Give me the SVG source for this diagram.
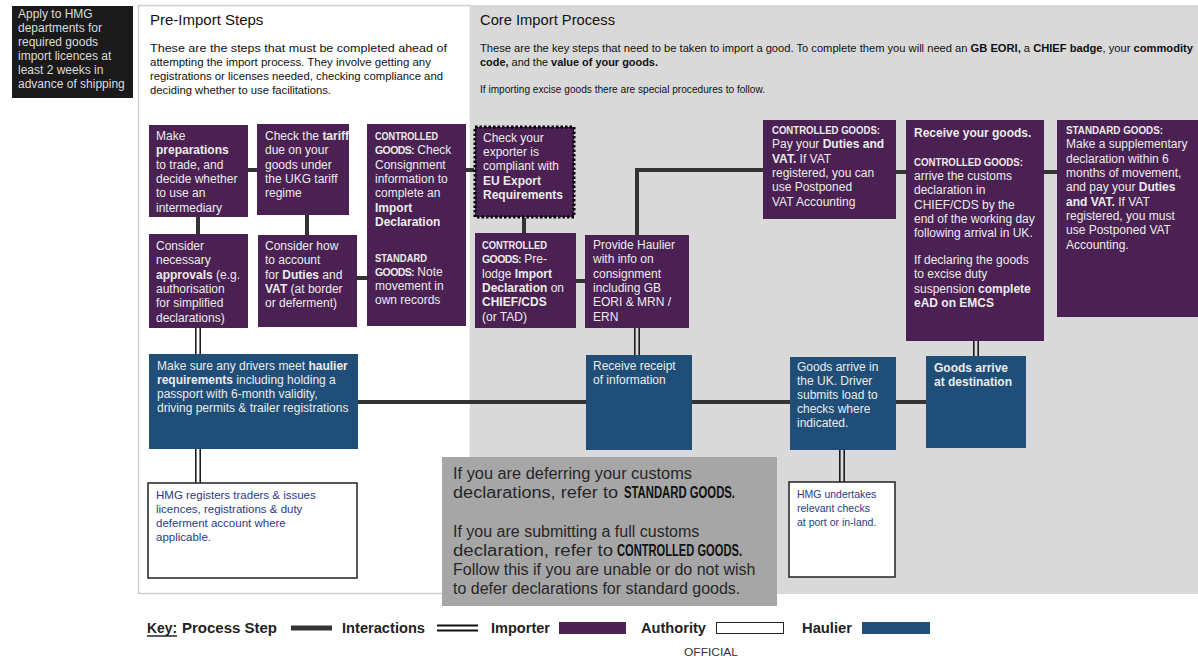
<svg xmlns="http://www.w3.org/2000/svg" width="1198" height="662" viewBox="0 0 1198 662">
<style>
text{font-family:"Liberation Sans",Arial,sans-serif}
.t{font-size:12px;fill:#ececec}
.b{font-weight:bold}
.cb{font-size:11.5px;font-weight:bold;fill:#ececec}
.cs{font-size:10.5px;font-weight:bold;letter-spacing:-0.6px}
.imp{fill:#4a2152}
.hau{fill:#1f4e78}
.auth{fill:#fff;stroke:#222;stroke-width:1.5}
.proc{fill:none;stroke:#333;stroke-width:4}
.dbl{fill:none;stroke:#111;stroke-width:1.5}
.hd{font-size:15px;fill:#111}
.desc{font-size:11px;fill:#111}
.at{font-size:11.5px;fill:#2a3a88}
.nt{font-size:16px;fill:#262626}
.lg{font-size:14px;font-weight:bold;fill:#222}
</style>
<rect x="0" y="0" width="1198" height="662" fill="#fff"/>
<g id="panels">
<rect x="138.5" y="5.5" width="332" height="588" fill="#fff" stroke="#d0d0d0" stroke-width="1.5"/>
<rect x="470" y="5" width="728" height="589" fill="#d9d9d9"/>
</g>
<g id="licence-note">
<rect x="12" y="6" width="121" height="92" fill="#1a1a1a"/>
<text class="t" style="fill:#dcdcdc"><tspan x="18" y="18">Apply to HMG</tspan><tspan x="18" y="32">departments for</tspan><tspan x="18" y="46">required goods</tspan><tspan x="18" y="60">import licences at</tspan><tspan x="18" y="74">least 2 weeks in</tspan><tspan x="18" y="88">advance of shipping</tspan></text>
</g>
<g id="headers">
<text class="hd" x="150" y="25">Pre-Import Steps</text>
<text class="desc" x="150" y="52" textLength="297" lengthAdjust="spacingAndGlyphs">These are the steps that must be completed ahead of</text>
<text class="desc" x="150" y="66" textLength="281" lengthAdjust="spacingAndGlyphs">attempting the import process. They involve getting any</text>
<text class="desc" x="150" y="80" textLength="293" lengthAdjust="spacingAndGlyphs">registrations or licenses needed, checking compliance and</text>
<text class="desc" x="150" y="94" textLength="181" lengthAdjust="spacingAndGlyphs">deciding whether to use facilitations.</text>
<text class="hd" x="480" y="25" textLength="135" lengthAdjust="spacingAndGlyphs">Core Import Process</text>
<text class="desc" x="480" y="52" textLength="713" lengthAdjust="spacingAndGlyphs">These are the key steps that need to be taken to import a good. To complete them you will need an <tspan class="b">GB EORI,</tspan> a <tspan class="b">CHIEF badge</tspan>, your <tspan class="b">commodity</tspan></text>
<text class="desc" x="480" y="66" textLength="178" lengthAdjust="spacingAndGlyphs"><tspan class="b">code,</tspan> and the <tspan class="b">value of your goods.</tspan></text>
<text class="desc" x="480" y="93" textLength="285" lengthAdjust="spacingAndGlyphs">If importing excise goods there are special procedures to follow.</text>
</g>
<g id="connectors">
<path class="proc" d="M248 170H257M198 217V234M307 215V235M357 278H367M466 170H474M524 218V233M576 281H585M637 235V170H763M896 172H906M1044 172H1057M358 402H586M692 402H790M896 402H926"/>
<path class="dbl" d="M195.8 328V354M200.2 328V354M195.8 449V483M200.2 449V483M634.8 328V355M639.2 328V355M973.8 341V356M978.2 341V356M839.8 450V482M844.2 450V482"/>
</g>
<g id="n-preparations">
<rect class="imp" x="149" y="125" width="99" height="92"/>
<text class="t"><tspan x="156" y="140">Make</tspan><tspan x="156" y="154" class="b">preparations</tspan><tspan x="156" y="169">to trade, and</tspan><tspan x="156" y="183">decide whether</tspan><tspan x="156" y="197">to use an</tspan><tspan x="156" y="212">intermediary</tspan></text>
</g>
<g id="n-tariff">
<rect class="imp" x="257" y="124" width="92" height="91"/>
<text class="t"><tspan x="265" y="140">Check the <tspan class="b">tariff</tspan></tspan><tspan x="265" y="154">due on your</tspan><tspan x="265" y="169">goods under</tspan><tspan x="265" y="183">the UKG tariff</tspan><tspan x="265" y="197">regime</tspan></text>
</g>
<g id="n-consignment">
<rect class="imp" x="367" y="124" width="99" height="202"/>
<text class="cb" x="375" y="140" textLength="63" lengthAdjust="spacingAndGlyphs">CONTROLLED</text>
<text class="t" x="375" y="154"><tspan class="cs">GOODS:</tspan> Check</text>
<text class="t"><tspan x="375" y="169">Consignment</tspan><tspan x="375" y="183">information to</tspan><tspan x="375" y="197">complete an</tspan><tspan x="375" y="212" class="b">Import</tspan><tspan x="375" y="226" class="b">Declaration</tspan></text>
<text class="cb" x="375" y="262" textLength="52" lengthAdjust="spacingAndGlyphs">STANDARD</text>
<text class="t" x="375" y="276"><tspan class="cs">GOODS:</tspan> Note</text>
<text class="t"><tspan x="375" y="290">movement in</tspan><tspan x="375" y="304">own records</tspan></text>
</g>
<g id="n-approvals">
<rect class="imp" x="149" y="234" width="99" height="94"/>
<text class="t"><tspan x="156" y="250">Consider</tspan><tspan x="156" y="264">necessary</tspan><tspan x="156" y="279"><tspan class="b">approvals</tspan> (e.g.</tspan><tspan x="156" y="293">authorisation</tspan><tspan x="156" y="307">for simplified</tspan><tspan x="156" y="322">declarations)</tspan></text>
</g>
<g id="n-duties">
<rect class="imp" x="258" y="235" width="99" height="92"/>
<text class="t"><tspan x="265" y="250">Consider how</tspan><tspan x="265" y="264">to account</tspan><tspan x="265" y="279">for <tspan class="b">Duties</tspan> and</tspan><tspan x="265" y="293"><tspan class="b">VAT</tspan> (at border</tspan><tspan x="265" y="307">or deferment)</tspan></text>
</g>
<g id="n-exporter">
<rect class="imp" x="475" y="127" width="99" height="90" stroke="#000" stroke-width="3" stroke-dasharray="2.5 2"/>
<text class="t"><tspan x="483" y="142">Check your</tspan><tspan x="483" y="156">exporter is</tspan><tspan x="483" y="170">compliant with</tspan><tspan x="483" y="185" class="b">EU Export</tspan><tspan x="483" y="199" class="b">Requirements</tspan></text>
</g>
<g id="n-prelodge">
<rect class="imp" x="475" y="233" width="101" height="95"/>
<text class="cb" x="482" y="249" textLength="65" lengthAdjust="spacingAndGlyphs">CONTROLLED</text>
<text class="t" x="482" y="263"><tspan class="cs">GOODS:</tspan> Pre-</text>
<text class="t"><tspan x="482" y="278">lodge <tspan class="b">Import</tspan></tspan><tspan x="482" y="292"><tspan class="b">Declaration</tspan> on</tspan><tspan x="482" y="306" class="b">CHIEF/CDS</tspan><tspan x="482" y="321">(or TAD)</tspan></text>
</g>
<g id="n-provide-haulier">
<rect class="imp" x="585" y="235" width="104" height="93"/>
<text class="t"><tspan x="593" y="249">Provide Haulier</tspan><tspan x="593" y="263">with info on</tspan><tspan x="593" y="278">consignment</tspan><tspan x="593" y="292">including GB</tspan><tspan x="593" y="306">EORI &amp; MRN /</tspan><tspan x="593" y="321">ERN</tspan></text>
</g>
<g id="n-pay-duties">
<rect class="imp" x="763" y="120" width="133" height="99"/>
<text class="cb" x="772" y="134" textLength="108" lengthAdjust="spacingAndGlyphs">CONTROLLED GOODS:</text>
<text class="t"><tspan x="772" y="148">Pay your <tspan class="b">Duties and</tspan></tspan><tspan x="772" y="163"><tspan class="b">VAT.</tspan> If VAT</tspan><tspan x="772" y="177">registered, you can</tspan><tspan x="772" y="191">use Postponed</tspan><tspan x="772" y="206">VAT Accounting</tspan></text>
</g>
<g id="n-receive-goods">
<rect class="imp" x="906" y="120" width="138" height="221"/>
<text class="t b" x="914" y="137">Receive your goods.</text>
<text class="cb" x="914" y="166" textLength="109" lengthAdjust="spacingAndGlyphs">CONTROLLED GOODS:</text>
<text class="t"><tspan x="914" y="180">arrive the customs</tspan><tspan x="914" y="194">declaration in</tspan><tspan x="914" y="209">CHIEF/CDS by the</tspan><tspan x="914" y="223">end of the working day</tspan><tspan x="914" y="237">following arrival in UK.</tspan><tspan x="914" y="264">If declaring the goods</tspan><tspan x="914" y="278">to excise duty</tspan><tspan x="914" y="293">suspension <tspan class="b">complete</tspan></tspan><tspan x="914" y="307" class="b">eAD on EMCS</tspan></text>
</g>
<g id="n-supplementary">
<rect class="imp" x="1057" y="120" width="141" height="197"/>
<text class="cb" x="1066" y="134" textLength="97" lengthAdjust="spacingAndGlyphs">STANDARD GOODS:</text>
<text class="t"><tspan x="1066" y="148">Make a supplementary</tspan><tspan x="1066" y="163">declaration within 6</tspan><tspan x="1066" y="177">months of movement,</tspan><tspan x="1066" y="191">and pay your <tspan class="b">Duties</tspan></tspan><tspan x="1066" y="206"><tspan class="b">and VAT.</tspan> If VAT</tspan><tspan x="1066" y="220">registered, you must</tspan><tspan x="1066" y="234">use Postponed VAT</tspan><tspan x="1066" y="249">Accounting.</tspan></text>
</g>
<g id="n-drivers">
<rect class="hau" x="149" y="354" width="209" height="95"/>
<text class="t"><tspan x="157" y="370">Make sure any drivers meet <tspan class="b">haulier</tspan></tspan><tspan x="157" y="384"><tspan class="b">requirements</tspan> including holding a</tspan><tspan x="157" y="398">passport with 6-month validity,</tspan><tspan x="157" y="412">driving permits &amp; trailer registrations</tspan></text>
</g>
<g id="n-receipt">
<rect class="hau" x="586" y="355" width="106" height="95"/>
<text class="t"><tspan x="593" y="370">Receive receipt</tspan><tspan x="593" y="384">of information</tspan></text>
</g>
<g id="n-arrive-uk">
<rect class="hau" x="790" y="357" width="106" height="93"/>
<text class="t"><tspan x="797" y="371">Goods arrive in</tspan><tspan x="797" y="385">the UK. Driver</tspan><tspan x="797" y="399">submits load to</tspan><tspan x="797" y="413">checks where</tspan><tspan x="797" y="427">indicated.</tspan></text>
</g>
<g id="n-destination">
<rect class="hau" x="926" y="356" width="100" height="92"/>
<text class="t b"><tspan x="934" y="372">Goods arrive</tspan><tspan x="934" y="386">at destination</tspan></text>
</g>
<g id="n-hmg-registers">
<rect class="auth" x="148" y="483" width="209" height="95"/>
<text class="at"><tspan x="156" y="499">HMG registers traders &amp; issues</tspan><tspan x="156" y="513">licences, registrations &amp; duty</tspan><tspan x="156" y="527">deferment account where</tspan><tspan x="156" y="541">applicable.</tspan></text>
</g>
<g id="n-hmg-checks">
<rect class="auth" x="789" y="482" width="106" height="95"/>
<text class="at" style="font-size:10.5px"><tspan x="797" y="498">HMG undertakes</tspan><tspan x="797" y="512">relevant checks</tspan><tspan x="797" y="526">at port or in-land.</tspan></text>
</g>
<g id="n-declaration-note">
<rect x="442" y="457" width="335" height="149" fill="#a6a6a6"/>
<text class="nt" x="453" y="479" textLength="239" lengthAdjust="spacingAndGlyphs">If you are deferring your customs</text>
<text class="nt" x="453" y="498" textLength="165" lengthAdjust="spacingAndGlyphs">declarations, refer to</text>
<text class="nt b" x="624" y="498" textLength="111" lengthAdjust="spacingAndGlyphs" style="fill:#111">STANDARD GOODS.</text>
<text class="nt" x="453" y="537">If you are submitting a full customs</text>
<text class="nt" x="453" y="556" textLength="160" lengthAdjust="spacingAndGlyphs">declaration, refer to</text>
<text class="nt b" x="617" y="556" textLength="125" lengthAdjust="spacingAndGlyphs" style="fill:#111">CONTROLLED GOODS.</text>
<text class="nt" x="453" y="575">Follow this if you are unable or do not wish</text>
<text class="nt" x="453" y="594">to defer declarations for standard goods.</text>
</g>
<g id="legend">
<text class="lg" x="147" y="633" textLength="30" lengthAdjust="spacingAndGlyphs">Key:</text>
<line x1="147" y1="636" x2="177" y2="636" stroke="#222" stroke-width="1.5"/>
<text class="lg" x="182" y="633" textLength="95" lengthAdjust="spacingAndGlyphs">Process Step</text>
<line x1="291" y1="628" x2="332" y2="628" stroke="#333" stroke-width="5"/>
<text class="lg" x="342" y="633" textLength="83" lengthAdjust="spacingAndGlyphs">Interactions</text>
<line x1="437" y1="625.5" x2="478" y2="625.5" stroke="#111" stroke-width="2"/>
<line x1="437" y1="630.5" x2="478" y2="630.5" stroke="#111" stroke-width="2"/>
<text class="lg" x="491" y="633" textLength="59" lengthAdjust="spacingAndGlyphs">Importer</text>
<rect class="imp" x="559" y="622" width="67" height="12"/>
<text class="lg" x="641" y="633" textLength="65" lengthAdjust="spacingAndGlyphs">Authority</text>
<rect class="auth" x="716.5" y="622.5" width="67" height="11" style="stroke-width:1"/>
<text class="lg" x="802" y="633" textLength="50" lengthAdjust="spacingAndGlyphs">Haulier</text>
<rect class="hau" x="862" y="622" width="68" height="12"/>
<text x="684" y="656" font-size="11" fill="#333" textLength="54" lengthAdjust="spacingAndGlyphs">OFFICIAL</text>
</g>
</svg>
